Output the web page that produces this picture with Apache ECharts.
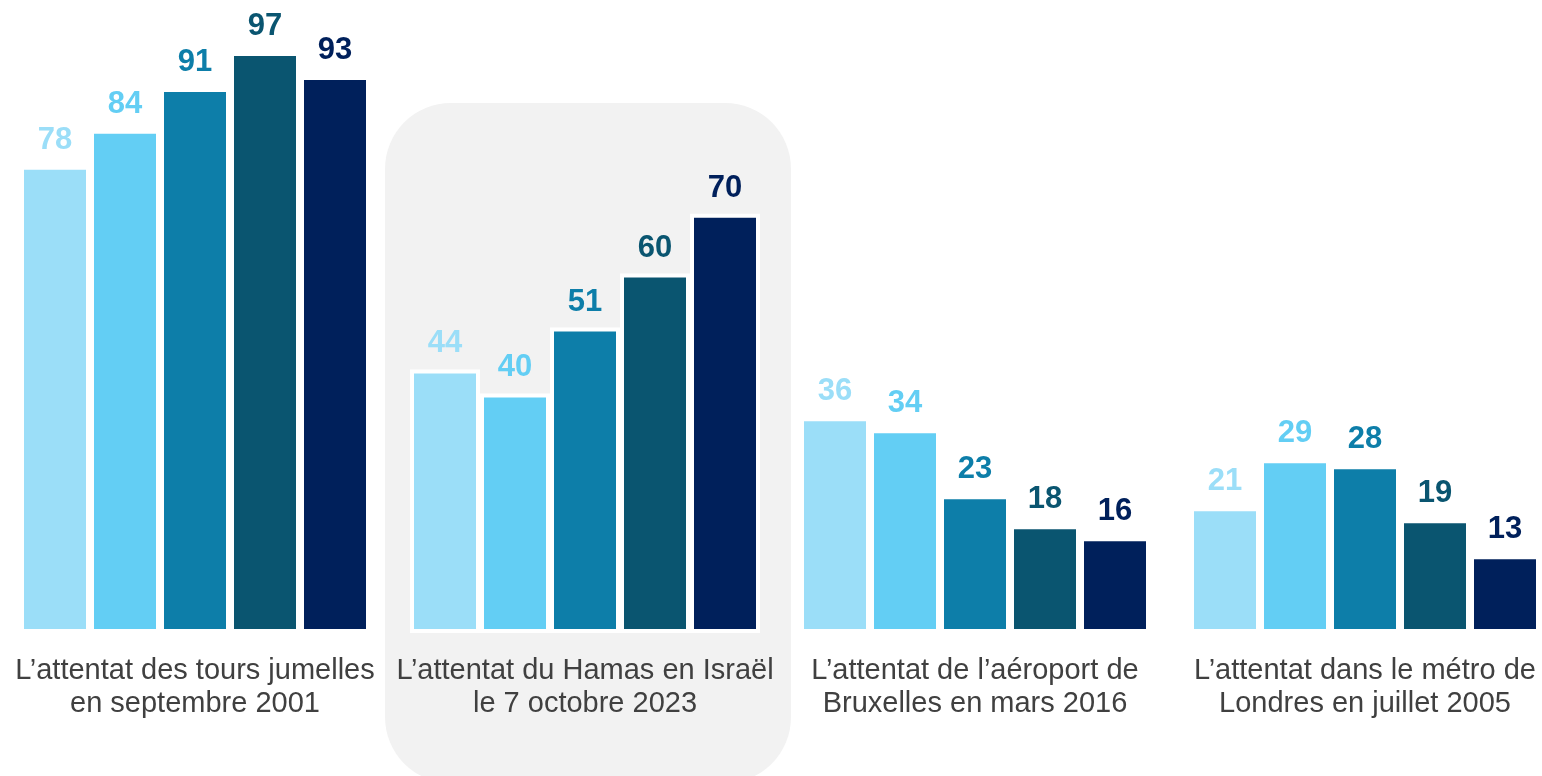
<!DOCTYPE html>
<html>
<head>
<meta charset="utf-8">
<script src="https://cdn.jsdelivr.net/npm/echarts@6/dist/echarts.min.js"></script>
<style>html,body{margin:0;padding:0;background:#fff;}#c{width:1542px;height:776px;}</style>
</head>
<body>
<div id="c"></div>
<script>
const categories = [
  "L’attentat des tours jumelles\nen septembre 2001",
  "L’attentat du Hamas en Israël\nle 7 octobre 2023",
  "L’attentat de l’aéroport de\nBruxelles en mars 2016",
  "L’attentat dans le métro de\nLondres en juillet 2005"
];
const seriesNames = ["Série 1", "Série 2", "Série 3", "Série 4", "Série 5"];
const s1 = [78, 44, 36, 21];
const s2 = [84, 40, 34, 29];
const s3 = [91, 51, 23, 28];
const s4 = [97, 60, 18, 19];
const s5 = [93, 70, 16, 13];
const seriesValues = [s1, s2, s3, s4, s5];
const colors = ["#9bdef8", "#63cef4", "#0d7ea9", "#0a5570", "#00205b"];

const chart = echarts.init(document.getElementById('c'), null, {renderer: 'canvas'});
chart.setOption({
  animation: false,
  backgroundColor: '#ffffff',
  graphic: [{
    type: 'rect',
    z: -10,
    silent: true,
    shape: {x: 385, y: 103, width: 406, height: 680, r: 66},
    style: {fill: '#f2f2f2'}
  }],
  grid: {left: 0, right: -18, top: 34, bottom: 143, containLabel: false, outerBoundsMode: 'none'},
  xAxis: {
    type: 'category',
    data: categories,
    axisLine: {show: false},
    axisTick: {show: false},
    axisLabel: {
      interval: 0,
      margin: 21,
      color: '#404040',
      fontFamily: 'Liberation Sans, Arial, sans-serif',
      fontSize: 29,
      lineHeight: 33
    }
  },
  yAxis: {type: 'value', min: 0, max: 100, show: false, splitLine: {show: false}},
  series: seriesValues.map((vals, i) => ({
    name: seriesNames[i],
    type: 'bar',
    data: vals,
    barWidth: 70,
    barGap: '0%',
    itemStyle: {color: colors[i], borderColor: '#ffffff', borderWidth: 4},
    label: {
      show: true,
      position: 'top',
      distance: 10,
      color: colors[i],
      fontFamily: 'Liberation Sans, Arial, sans-serif',
      fontWeight: 'bold',
      fontSize: 31
    }
  }))
});
</script>
</body>
</html>
